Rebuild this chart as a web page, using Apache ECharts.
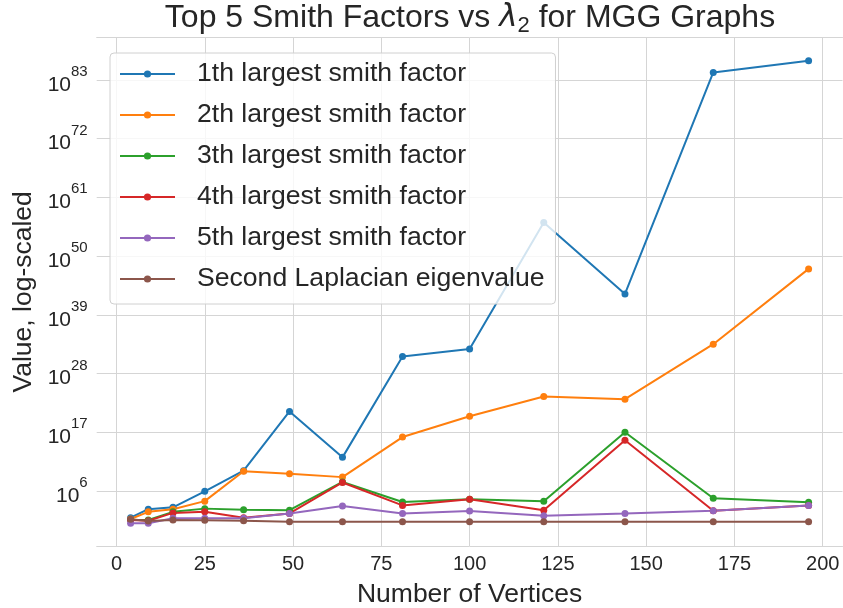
<!DOCTYPE html>
<html lang="en">
<head>
    <meta charset="UTF-8">
    <title>Smith Factors</title>
    <script type="text/javascript" src="https://cdn.jsdelivr.net/npm/echarts@6/dist/echarts.min.js"></script>
    <style>
        html, body { margin: 0; padding: 0; background: #fff; }
    </style>
</head>
<body>
<div id="main" style="width: 843px;height:608px;"></div>

<script>
    // number of vertices
    var vertices = [4, 9, 16, 25, 36, 49, 64, 81, 100, 121, 144, 169, 196];

    var smith1 = [1.0, 2.6, 2.95, 5.95, 9.8, 20.9, 12.3, 31.2, 32.6, 56.3, 42.9, 84.4, 86.6];
    var smith2 = [0.75, 2.1, 2.57, 4.1, 9.7, 9.25, 8.6, 16.1, 20.0, 23.7, 23.2, 33.5, 47.6];
    var smith3 = [0.57, 0.57, 2.1, 2.7, 2.5, 2.4, 7.7, 3.94, 4.44, 4.07, 17.0, 4.63, 3.88];
    var smith4 = [0.57, 0.43, 1.9, 2.1, 1.0, 1.8, 7.6, 3.3, 4.44, 2.38, 15.5, 2.3, 3.3];
    var smith5 = [-0.05, -0.05, 0.9, 0.9, 0.9, 1.8, 3.2, 1.8, 2.25, 1.37, 1.8, 2.3, 3.3];
    var lambda2 = [0.7, 0.38, 0.57, 0.5, 0.43, 0.25, 0.25, 0.25, 0.25, 0.25, 0.25, 0.25, 0.25];

    var seriesNames = ['1th largest smith factor', '2th largest smith factor', '3th largest smith factor',
        '4th largest smith factor', '5th largest smith factor', 'Second Laplacian eigenvalue'];
    var colors = ['#1f77b4', '#ff7f0e', '#2ca02c', '#d62728', '#9467bd', '#8c564b'];

    var xTicks = [0, 25, 50, 75, 100, 125, 150, 175, 200];
    var yTickExps = [6, 17, 28, 39, 50, 61, 72, 83];

    var yTicks = yTickExps.map(function (e) { return Math.pow(10, e); });
    var allData = [smith1, smith2, smith3, smith4, smith5, lambda2];

    var gridColor = '#d5d5d5';
    var textColor = '#262626';
    var font = 'Liberation Sans';

    var series = allData.map(function (vals, i) {
        return {
            name: seriesNames[i],
            type: 'line',
            symbol: 'circle',
            symbolSize: 7,
            color: colors[i],
            lineStyle: { width: 2 },
            data: vals.map(function (v, j) { return [vertices[j], Math.pow(10, v)]; })
        };
    });

    var myChart = echarts.init(document.getElementById('main'));
    myChart.setOption({
        animation: false,
        backgroundColor: '#fff',
        textStyle: { fontFamily: font },
        title: {
            text: 'Top 5 Smith Factors vs {i|λ}{sub|2} for MGG Graphs',
            left: 470,
            top: -1,
            padding: 0,
            textAlign: 'center',
            textStyle: {
                fontSize: 32,
                fontWeight: 'normal',
                color: textColor,
                lineHeight: 38,
                rich: {
                    i: { fontSize: 31, fontStyle: 'italic', fontFamily: 'DejaVu Sans', color: textColor },
                    sub: { fontSize: 22, verticalAlign: 'bottom', color: textColor }
                }
            }
        },
        legend: {
            orient: 'vertical',
            left: 110,
            top: 53,
            padding: [6, 11, 10, 9],
            itemWidth: 55,
            itemHeight: 9,
            itemGap: 11,
            backgroundColor: 'rgba(255,255,255,0.8)',
            borderColor: '#d0d0d0',
            borderWidth: 1,
            borderRadius: 4,
            textStyle: {
                fontSize: 26.6,
                color: textColor,
                lineHeight: 30,
                padding: [0, 0, 0, 17]
            },
            data: seriesNames
        },
        grid: {
            left: 96.7,
            right: 0.5,
            top: 37.7,
            bottom: 62,
            containLabel: false,
            outerBoundsMode: 'none'
        },
        xAxis: [{
            type: 'value',
            min: -5.6,
            max: 205.6,
            name: 'Number of Vertices',
            nameLocation: 'middle',
            nameGap: 35,
            nameTextStyle: { fontSize: 26.5, color: textColor },
            axisLine: { show: true, lineStyle: { color: gridColor, width: 1 } },
            axisTick: { show: false, customValues: xTicks },
            axisLabel: { customValues: xTicks, fontSize: 20, color: textColor, margin: 8 },
            splitLine: { show: true, lineStyle: { color: gridColor, width: 1 } }
        }, {
            type: 'value',
            position: 'top',
            min: -5.6,
            max: 205.6,
            axisLine: { show: true, lineStyle: { color: gridColor, width: 1 } },
            axisTick: { show: false },
            axisLabel: { show: false },
            splitLine: { show: false }
        }],
        yAxis: [{
            type: 'log',
            logBase: 10,
            min: Math.pow(10, -4.3),
            max: Math.pow(10, 90.9),
            name: 'Value, log-scaled',
            nameLocation: 'middle',
            nameGap: 60,
            nameTextStyle: { fontSize: 26.5, color: textColor },
            axisLine: { show: true, lineStyle: { color: gridColor, width: 1 } },
            axisTick: { show: false, customValues: yTicks },
            axisLabel: {
                customValues: yTicks,
                margin: 9,
                formatter: function (v) {
                    var e = Math.round(Math.log(v) / Math.LN10);
                    return '{b|10}{s|' + e + '}';
                },
                rich: {
                    b: { fontSize: 21, color: textColor, verticalAlign: 'bottom', lineHeight: 31 },
                    s: { fontSize: 15, color: textColor, verticalAlign: 'top', lineHeight: 31 }
                }
            },
            splitLine: { show: true, lineStyle: { color: gridColor, width: 1 } }
        }, {
            type: 'log',
            logBase: 10,
            position: 'right',
            min: Math.pow(10, -4.3),
            max: Math.pow(10, 90.9),
            axisLine: { show: true, lineStyle: { color: gridColor, width: 1 } },
            axisTick: { show: false },
            axisLabel: { show: false },
            splitLine: { show: false }
        }],
        series: series
    });
</script>

</body>
</html>
